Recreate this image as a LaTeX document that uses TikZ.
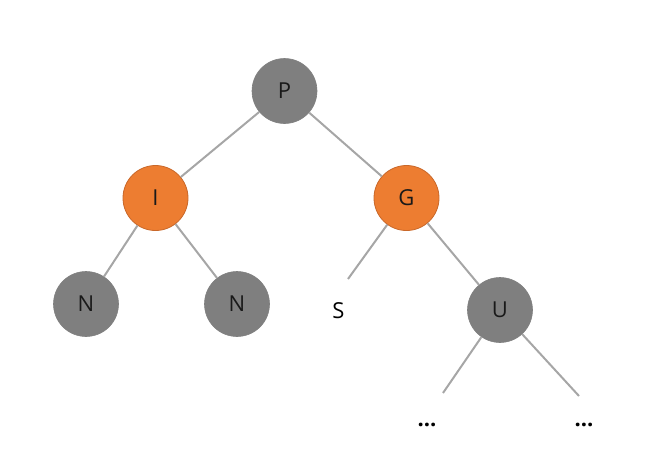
\documentclass[tikz,border=0pt]{standalone}
\usepackage{fontspec}
\setmainfont{Open Sans}
\definecolor{nodegrey}{HTML}{7F7F7F}
\definecolor{nodeorange}{HTML}{ED7D31}
\definecolor{orangeborder}{HTML}{C9682A}
\definecolor{edgegrey}{HTML}{A6A6A6}
\begin{document}
\begin{tikzpicture}[x=1pt,y=-1pt,
  treenode/.style={circle,minimum size=65pt,inner sep=0pt,font=\fontsize{22}{26}\selectfont,text=black!90},
  greynode/.style={treenode,fill=nodegrey,draw=nodegrey,line width=0.6pt},
  orangenode/.style={treenode,fill=nodeorange,draw=orangeborder,line width=0.8pt},
  edge/.style={draw=edgegrey,line width=2pt},
  lbl/.style={font=\fontsize{22}{26}\selectfont,inner sep=0pt}]
\useasboundingbox (0,0) rectangle (654,474);
\node[greynode] (P) at (284.5,91) {P};
\node[orangenode] (I) at (155.5,198) {I};
\node[orangenode] (G) at (406.5,198) {G};
\node[greynode] (N1) at (86,304) {N};
\node[greynode] (N2) at (237,304) {N};
\node[greynode] (U) at (500,310) {U};
\coordinate (sEnd) at (348,279);
\coordinate (uL) at (443,393);
\coordinate (uR) at (579,396);
\node[lbl] (S) at (338.5,311) {S};
\node[lbl,font=\fontsize{22}{26}\selectfont\bfseries] (d1) at (427,425) {...};
\node[lbl,font=\fontsize{22}{26}\selectfont\bfseries] (d2) at (584,425) {...};
\draw[edge] (P) -- (I);
\draw[edge] (P) -- (G);
\draw[edge] (I) -- (N1);
\draw[edge] (I) -- (N2);
\draw[edge] (G) -- (sEnd);
\draw[edge] (G) -- (U);
\draw[edge] (U) -- (uL);
\draw[edge] (U) -- (uR);
\end{tikzpicture}
\end{document}
